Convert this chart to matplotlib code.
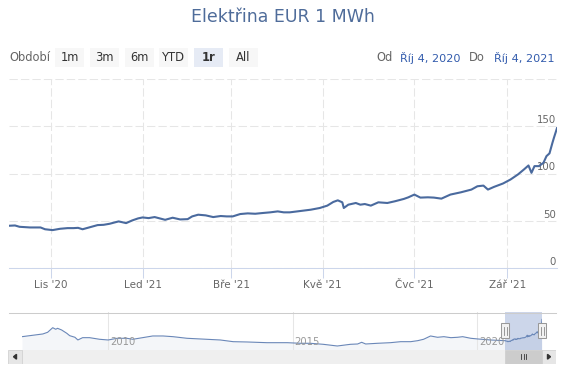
import matplotlib
matplotlib.use("Agg")
import matplotlib.pyplot as plt
import matplotlib.dates as mdates
from matplotlib.patches import Rectangle, Polygon
from matplotlib.lines import Line2D
import pandas as pd

# ---- data ----
title = "Elektřina EUR 1 MWh"

main_dates = [
    "2020-10-04", "2020-10-08", "2020-10-11", "2020-10-18", "2020-10-25", "2020-10-28",
    "2020-11-02", "2020-11-07", "2020-11-12", "2020-11-16", "2020-11-19", "2020-11-22", "2020-11-27",
    "2020-12-02", "2020-12-06", "2020-12-10", "2020-12-16", "2020-12-18", "2020-12-21", "2020-12-25", "2020-12-29",
    "2021-01-01", "2021-01-05", "2021-01-09", "2021-01-16", "2021-01-21", "2021-01-26", "2021-01-31",
    "2021-02-03", "2021-02-07", "2021-02-12", "2021-02-17", "2021-02-22", "2021-02-26",
    "2021-03-02", "2021-03-07", "2021-03-12", "2021-03-17", "2021-03-22", "2021-03-27",
    "2021-04-01", "2021-04-05", "2021-04-09", "2021-04-16", "2021-04-23", "2021-04-29",
    "2021-05-04", "2021-05-08", "2021-05-11", "2021-05-14", "2021-05-15", "2021-05-18", "2021-05-23", "2021-05-26", "2021-05-29",
    "2021-06-02", "2021-06-07", "2021-06-13", "2021-06-18", "2021-06-24", "2021-06-27",
    "2021-07-01", "2021-07-05", "2021-07-10", "2021-07-14", "2021-07-19", "2021-07-25",
    "2021-08-01", "2021-08-08", "2021-08-12", "2021-08-16", "2021-08-19", "2021-08-23", "2021-08-29",
    "2021-09-03", "2021-09-08", "2021-09-12", "2021-09-15", "2021-09-17", "2021-09-19", "2021-09-22", "2021-09-25", "2021-09-27", "2021-09-29",
    "2021-10-01", "2021-10-02", "2021-10-04",
]
main_values = [
    44.7, 45, 43.6, 42.9, 42.9, 41,
    40.1, 41.5, 42.2, 42.2, 42.5, 41, 43.2,
    45.4, 45.7, 46.8, 49.3, 48.6, 47.5, 50.3, 52.5,
    53.5, 52.8, 53.9, 51, 53.2, 51.4, 51.7,
    54.6, 56.4, 55.7, 53.9, 55, 54.6,
    54.6, 57.1, 57.8, 57.4, 58.2, 58.9,
    59.9, 58.9, 58.9, 60.3, 61.7, 63.5,
    66, 69.9, 71.6, 69.5, 63.5, 67, 68.8, 67, 67.7,
    66, 69.5, 68.8, 70.6, 73.1, 74.8,
    77.7, 74.5, 74.8, 74.5, 73.4, 77.7,
    80.1, 83, 86.5, 87.2, 83, 85.8, 89.4,
    93.6, 99, 104.3, 108.5, 100.7, 107.8, 107.8, 111.4, 118.4, 121.3,
    132.7, 138, 148,
]

# older history, only visible in the navigator
hist_dates = [
    "2007-09-01", "2007-12-15", "2008-03-25", "2008-05-12", "2008-07-01", "2008-07-31",
    "2008-08-18", "2008-09-27", "2008-11-17", "2008-12-16", "2009-02-06", "2009-03-07",
    "2009-04-23", "2009-07-01", "2009-10-08", "2010-01-01", "2010-03-30", "2010-07-05",
    "2010-09-02", "2010-12-10", "2011-03-18", "2011-06-28", "2011-10-05", "2012-02-20",
    "2012-09-05", "2013-01-15", "2013-05-22", "2013-10-08", "2014-04-23", "2014-11-10",
    "2015-03-18", "2015-06-25", "2015-10-30", "2016-03-18", "2016-07-27", "2016-10-05",
    "2016-11-14", "2016-12-24", "2017-04-20", "2017-08-25", "2017-12-05", "2018-03-14",
    "2018-05-22", "2018-07-20", "2018-09-27", "2018-12-05", "2019-02-06", "2019-04-16",
    "2019-06-21", "2019-08-11", "2019-10-30", "2020-01-08", "2020-05-15",
]
hist_values = [
    64.5, 71.3, 77.6, 85.8, 108, 100.4,
    105, 97, 81, 69.4, 61.6, 48.5,
    59.7, 59.7, 51.9, 48.5, 56.7, 56.7,
    51.9, 59.7, 67.9, 67.9, 64.5, 56.7,
    51.9, 48.5, 40.3, 38.8, 35.4, 35.4,
    32.5, 32.5, 27.6, 19.4, 27.6, 29.1,
    37.3, 29.1, 32.5, 35.4, 40.3, 40.3,
    45.1, 51.9, 67.9, 61.6, 64.5, 59.7,
    61.6, 64.5, 56.7, 53.4, 48.5,
]

month_ticks = ["2020-11-01", "2021-01-01", "2021-03-01", "2021-05-01", "2021-07-01", "2021-09-01"]
month_labels = ["Lis '20", "Led '21", "Bře '21", "Kvě '21", "Čvc '21", "Zář '21"]
y_ticks = [0, 50, 100, 150, 200]
y_labels = [0, 50, 100, 150]
year_ticks = ["2010-01-01", "2015-01-01", "2020-01-01"]
year_labels = ["2010", "2015", "2020"]

buttons = ["1m", "3m", "6m", "YTD", "1r", "All"]
selected = "1r"
range_from = "Říj 4, 2020"
range_to = "Říj 4, 2021"

W, H = 565, 377


def fx(px):
    return px / W


def fy(py):
    return 1 - py / H


fig = plt.figure(figsize=(W / 100, H / 100), dpi=100)

# title
fig.text(fx(283), fy(17), title, ha="center", va="center", fontsize=12.5, color="#4f6c9a")

# range selector
fig.text(fx(9), fy(57.5), "Období", ha="left", va="center", fontsize=8.3, color="#666666")
for i, b in enumerate(buttons):
    left = 55 + i * 34.8
    fc = "#e6ebf5" if b == selected else "#f7f7f7"
    fig.add_artist(Rectangle((fx(left), fy(67)), 29 / W, 19 / H, transform=fig.transFigure,
                             facecolor=fc, edgecolor="none"))
    fig.text(fx(left + 14.5), fy(57.5), b, ha="center", va="center", fontsize=8.3,
             color="#333333", fontweight="bold" if b == selected else "normal")
fig.text(fx(376), fy(57.5), "Od", ha="left", va="center", fontsize=8.3, color="#666666")
fig.text(fx(400), fy(57.5), range_from, ha="left", va="center", fontsize=8.1, color="#335cad")
fig.text(fx(469), fy(57.5), "Do", ha="left", va="center", fontsize=8.3, color="#666666")
fig.text(fx(494), fy(57.5), range_to, ha="left", va="center", fontsize=8.1, color="#335cad")

# ---- main chart ----
ax = fig.add_axes([fx(9), fy(268), 548 / W, (268 - 79) / H])
md = pd.to_datetime(main_dates)
ax.plot(md, main_values, color="#4a6a9e", lw=1.5, solid_joinstyle="round", zorder=3)
ax.set_xlim(pd.Timestamp("2020-10-04"), pd.Timestamp("2021-10-04"))
ax.set_ylim(0, 200)
ax.set_yticks(y_ticks)
ax.tick_params(axis="y", length=0, labelleft=False)
ax.set_xticks(pd.to_datetime(month_ticks))
ax.set_xticklabels(month_labels)
ax.tick_params(axis="x", length=7, width=0.75, color="#ccd6eb", labelsize=7.5,
               labelcolor="#666666", pad=2)
ax.grid(True, color="#e6e6e6", lw=0.75, linestyle=(0, (8, 3)))
ax.set_axisbelow(True)
for s in ["top", "right", "left"]:
    ax.spines[s].set_visible(False)
ax.spines["bottom"].set_color("#ccd6eb")
ax.spines["bottom"].set_linewidth(0.75)
for v in y_labels:
    ax.annotate(str(v), xy=(1, v), xycoords=ax.get_yaxis_transform(), xytext=(-1, 1),
                textcoords="offset pixels", ha="right", va="bottom", fontsize=7.3,
                color="#666666", zorder=2)

# ---- navigator ----
nav = fig.add_axes([fx(22), fy(350), 520 / W, 38 / H])
nd = pd.to_datetime(hist_dates + main_dates)
nv = hist_values + main_values
nav.fill_between(nd, nv, 0, color="#4572a7", alpha=0.06, lw=0)
nav.plot(nd, nv, color="#6a87b8", lw=0.8)
nav.set_xlim(nd[0], nd[-1])
nav.set_ylim(0, 184)
nav.set_yticks([])
nav.set_xticks(pd.to_datetime(year_ticks))
nav.tick_params(axis="x", length=0, labelbottom=False)
nav.grid(axis="x", color="#e6e6e6", lw=0.75)
for s in nav.spines.values():
    s.set_visible(False)
for d, lab in zip(mdates.date2num(pd.to_datetime(year_ticks)), year_labels):
    nav.annotate(lab, xy=(d, 0.2), xycoords=nav.get_xaxis_transform(), xytext=(2, 0),
                 textcoords="offset pixels", ha="left", va="center", fontsize=7.2,
                 color="#999999")
sel_start, sel_end = md[0], md[-1]
nav.axvspan(sel_start, sel_end, color="#6685c2", alpha=0.33, lw=0)

fig.add_artist(Line2D([fx(9), fx(556)], [fy(312.5)] * 2, transform=fig.transFigure,
                      color="#cccccc", lw=0.75))

# handles at the ends of the selected range
x0 = nav.transData.transform((mdates.date2num(sel_start), 0))[0]
x1 = nav.transData.transform((mdates.date2num(sel_end), 0))[0]
for xp in (x0, x1):
    fig.add_artist(Rectangle((fx(xp - 4), fy(338)), 8 / W, 15 / H, transform=fig.transFigure,
                             facecolor="#f2f2f2", edgecolor="#999999", lw=0.75))
    for dx in (-1.5, 1.5):
        fig.add_artist(Line2D([fx(xp + dx)] * 2, [fy(326.5), fy(334.5)],
                              transform=fig.transFigure, color="#888888", lw=0.6))

# ---- scrollbar ----
sb = fig.add_axes([fx(8), fy(363.5), 548 / W, 13.5 / H])
sb.set_axis_off()
sb.set_xlim(0, 548)
sb.set_ylim(0, 1)
sb.add_patch(Rectangle((14, 0), 520, 1, facecolor="#efefef", edgecolor="none"))
sb.add_patch(Rectangle((x0 - 8, 0), x1 - x0, 1, facecolor="#cccccc", edgecolor="#cccccc", lw=0.5))
cx = (x0 + x1) / 2 - 8
for dx in (-2.5, 0, 2.5):
    sb.plot([cx + dx] * 2, [0.3, 0.7], color="#333333", lw=0.6)
for bx in (0, 534):
    sb.add_patch(Rectangle((bx, 0), 14, 1, facecolor="#e6e6e6", edgecolor="#cccccc", lw=0.5))
sb.add_patch(Polygon([(5.5, 0.5), (8.5, 0.68), (8.5, 0.32)], color="#333333"))
sb.add_patch(Polygon([(542.5, 0.5), (539.5, 0.68), (539.5, 0.32)], color="#333333"))

fig.savefig("out.png", dpi=100, facecolor="white")
